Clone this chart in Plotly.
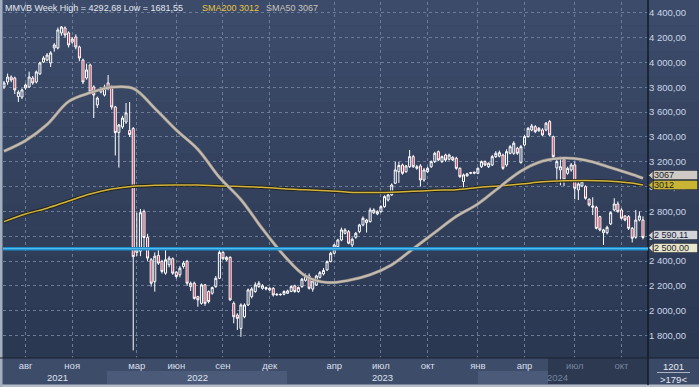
import plotly.graph_objects as go

# ---------------- data (weekly bars) ----------------
opens = [3802, 3842, 3882, 3874, 3725, 3721, 3794, 3802, 3874, 3842,
         3907, 4003, 4019, 3995, 4116, 4116, 4237, 4277, 4237, 4164,
         4204, 4124, 4019, 3874, 3979, 3802, 3657, 3762, 3737, 3834,
         3802, 3641, 3435, 3480, 3520, 3451, 3467, 2470, 2480, 2800,
         2590, 2411, 2235, 2446, 2398, 2303, 2371, 2419, 2311, 2290,
         2357, 2398, 2195, 2222, 2114, 2060, 2209, 2155, 2141, 2195,
         2262, 2470, 2411, 2430, 2060, 1966, 1858, 1952, 2047, 2114,
         2155, 2195, 2181, 2187, 2168, 2181, 2128, 2133, 2133, 2141,
         2155, 2201, 2155, 2195, 2245, 2280, 2175, 2208, 2270, 2297,
         2329, 2396, 2463, 2516, 2570, 2624, 2637, 2530, 2592, 2637,
         2691, 2710, 2718, 2790, 2780, 2798, 2838, 2892, 2933, 3027,
         3120, 3174, 3120, 3160, 3241, 3147, 3166, 3053, 3120, 3160,
         3201, 3281, 3201, 3254, 3220, 3236, 3228, 3147, 3040, 3086,
         3107, 3107, 3107, 3160, 3201, 3160, 3174, 3241, 3245, 3254,
         3174, 3268, 3268, 3308, 3193, 3335, 3402, 3456, 3482, 3450,
         3456, 3456, 3523, 3402, 3150, 3134, 3220, 3107, 3134, 3174,
         2973, 3005, 2999, 2898, 2833, 2833, 2758, 2629, 2629, 2699,
         2812, 2860, 2812, 2763, 2758, 2664, 2592, 2731, 2731]
highs = [3850, 3910, 3895, 3885, 3775, 3790, 3830, 3925, 3890, 3935,
         4005, 4050, 4075, 4090, 4155, 4280, 4292.68, 4290, 4250, 4205,
         4225, 4135, 4030, 3990, 3990, 3815, 3725, 3800, 3820, 3898,
         3815, 3650, 3505, 3570, 3673, 3681, 3480, 2790, 2820, 2815,
         2620, 2425, 2470, 2500, 2410, 2492, 2440, 2430, 2320, 2360,
         2400, 2410, 2235, 2235, 2120, 2220, 2215, 2165, 2195, 2280,
         2495, 2480, 2440, 2440, 2075, 1980, 2060, 2060, 2180, 2190,
         2230, 2240, 2215, 2195, 2190, 2190, 2140, 2140, 2165, 2170,
         2205, 2210, 2195, 2265, 2300, 2300, 2250, 2290, 2320, 2345,
         2405, 2475, 2540, 2580, 2670, 2665, 2650, 2590, 2635, 2700,
         2760, 2740, 2830, 2825, 2810, 2850, 2930, 2945, 3025, 3200,
         3200, 3185, 3175, 3295, 3255, 3175, 3180, 3150, 3160, 3210,
         3280, 3290, 3250, 3265, 3265, 3245, 3240, 3155, 3105, 3110,
         3118, 3120, 3155, 3210, 3210, 3195, 3255, 3285, 3290, 3265,
         3300, 3335, 3365, 3320, 3335, 3415, 3480, 3505, 3495, 3480,
         3470, 3520, 3535, 3410, 3215, 3240, 3230, 3160, 3190, 3201,
         3035, 3050, 3010, 2905, 2914, 2845, 2765, 2660, 2685, 2800,
         2906, 2880, 2825, 2770, 2770, 2675, 2812, 2800, 2760]
lows = [3785, 3820, 3840, 3745, 3681, 3705, 3780, 3795, 3820, 3830,
        3900, 3995, 4010, 3963, 4086, 4105, 4215, 4200, 4120, 4150,
        4105, 4010, 3825, 3860, 3745, 3552, 3633, 3750, 3725, 3775,
        3620, 3250, 3153, 3465, 3505, 3400, 1681.55, 2440, 2440, 2500,
        2400, 2195, 2154, 2370, 2300, 2290, 2350, 2290, 2260, 2270,
        2340, 2200, 2160, 2090, 2033, 2050, 2040, 2060, 2130, 2185,
        2255, 2410, 2400, 2080, 1899, 1846, 1790, 1940, 2040, 2100,
        2145, 2185, 2170, 2165, 2160, 2115, 2120, 2122, 2125, 2135,
        2150, 2145, 2145, 2185, 2235, 2170, 2154, 2200, 2260, 2285,
        2320, 2390, 2455, 2505, 2560, 2615, 2535, 2490, 2580, 2625,
        2680, 2630, 2710, 2780, 2770, 2790, 2830, 2880, 2925, 3020,
        3030, 3095, 3110, 3150, 3150, 3135, 3000, 3040, 3110, 3150,
        3190, 3205, 3190, 3200, 3210, 3205, 3135, 3070, 2973, 3080,
        3100, 3100, 3100, 3150, 3165, 3150, 3165, 3230, 3235, 3135,
        3160, 3260, 3255, 3255, 3185, 3325, 3395, 3445, 3430, 3440,
        3405, 3445, 3405, 3230, 3027, 3010, 3005, 3095, 3120, 2898,
        2892, 2995, 2895, 2840, 2771, 2655, 2640, 2530, 2615, 2690,
        2800, 2790, 2735, 2720, 2650, 2550, 2580, 2720, 2575]
closes = [3834, 3882, 3858, 3778, 3760, 3778, 3818, 3882, 3834, 3923,
          3995, 4035, 4059, 4076, 4140, 4261, 4285, 4220, 4140, 4188,
          4124, 4035, 3842, 3939, 3762, 3737, 3713, 3786, 3802, 3794,
          3641, 3435, 3496, 3552, 3593, 3419, 2436, 2490, 2790, 2590,
          2424, 2222, 2440, 2384, 2317, 2411, 2424, 2303, 2276, 2343,
          2384, 2222, 2222, 2100, 2088, 2209, 2060, 2074, 2187, 2262,
          2470, 2419, 2430, 2088, 1952, 1939, 2047, 2047, 2168, 2176,
          2209, 2222, 2201, 2176, 2181, 2128, 2133, 2130, 2155, 2160,
          2195, 2155, 2187, 2254, 2280, 2181, 2240, 2280, 2307, 2325,
          2396, 2463, 2530, 2570, 2651, 2651, 2544, 2576, 2624, 2691,
          2745, 2731, 2812, 2812, 2798, 2838, 2919, 2933, 3013, 3134,
          3170, 3107, 3166, 3241, 3160, 3160, 3053, 3134, 3147, 3201,
          3268, 3214, 3241, 3214, 3254, 3214, 3147, 3080, 3094, 3102,
          3112, 3115, 3147, 3201, 3174, 3188, 3241, 3268, 3273, 3147,
          3281, 3321, 3349, 3268, 3321, 3402, 3469, 3488, 3442, 3469,
          3416, 3510, 3416, 3241, 3201, 3160, 3053, 3147, 3174, 2986,
          3021, 3040, 2906, 2852, 2844, 2664, 2651, 2651, 2672, 2790,
          2860, 2798, 2745, 2731, 2664, 2584, 2731, 2763, 2590.11]
bar_idx = list(range(len(closes)))

sma_idx = [0, 6, 12, 18, 24, 30, 36, 42, 48, 54, 60, 66, 72, 78, 84, 90,
           96, 102, 108, 114, 120, 126, 132, 138, 144, 150, 156, 162, 168, 174, 178]
sma50 = [3285, 3370, 3500, 3685, 3755, 3800, 3790, 3630, 3455, 3300, 3075,
         2895, 2660, 2445, 2280, 2228, 2245, 2290, 2370, 2500, 2630, 2760,
         2860, 2995, 3125, 3205, 3230, 3212, 3162, 3107, 3067]
sma200 = [2718, 2780, 2826, 2884, 2940, 2980, 3003, 3010, 3012, 3012, 3005,
          3000, 2995, 2982, 2975, 2967, 2955, 2952, 2955, 2962, 2970, 2975,
          2993, 3005, 3020, 3038, 3046, 3048, 3044, 3030, 3012]

month_idx = [6, 19, 37, 48, 61, 74, 92, 105, 118, 132, 145, 159, 172]
month_labels = ["авг", "ноя", "мар", "июн", "сен", "дек", "апр", "июл", "окт",
                "янв", "апр", "июл", "окт"]
year_labels = ["2021", "2022", "2023", "2024"]
price_ticks = [1800, 2000, 2200, 2400, 2600, 2800, 3000, 3200, 3400,
               3600, 3800, 4000, 4200, 4400]
support_level = 2500
last_close = 2590.11
sma200_last = 3012
sma50_last = 3067

# ---------------- geometry helpers ----------------
W, H = 699, 387
ML, MR, MT, MB = 3, 51, 2, 29
PW, PH = W - ML - MR, H - MT - MB
Y0, Y1 = 1620, 4486
X0, X1 = -0.28, 179.4
dv_px = (Y1 - Y0) / PH


def px(xp):
    return (xp - ML) / PW


def py(yp):
    return (H - MB - yp) / PH


FONT = "Liberation Sans"
BG = "#33425e"

fig = go.Figure()

fig.add_trace(go.Scatter(x=sma_idx, y=sma200, mode="lines", hoverinfo="skip",
                         line=dict(color="#24231a", width=3.4, shape="spline")))
fig.add_trace(go.Scatter(x=sma_idx, y=sma200, mode="lines", hoverinfo="skip",
                         line=dict(color="#d3b63e", width=1.5, shape="spline")))
fig.add_trace(go.Scatter(x=sma_idx, y=sma50, mode="lines", hoverinfo="skip",
                         line=dict(color="#8c867e", width=3.2, shape="spline")))
fig.add_trace(go.Scatter(x=sma_idx, y=sma50, mode="lines", hoverinfo="skip",
                         line=dict(color="#c4bcb2", width=2.0, shape="spline")))

fig.add_trace(go.Candlestick(
    x=bar_idx, open=opens, high=highs, low=lows, close=closes,
    increasing=dict(line=dict(color="#ffffff", width=1), fillcolor="rgba(0,0,0,0)"),
    decreasing=dict(line=dict(color="#ffffff", width=1), fillcolor="#b7304c"),
    whiskerwidth=0, hoverinfo="skip"))

shapes = []
# background gradient
top_c = (0x3c, 0x4b, 0x6a)
bot_c = (0x2b, 0x38, 0x52)
nb = 14
for i in range(nb):
    t = i / (nb - 1)
    c = tuple(int(round(top_c[k] + (bot_c[k] - top_c[k]) * t)) for k in range(3))
    shapes.append(dict(type="rect", xref="paper", yref="paper", layer="below",
                       x0=px(0), x1=px(W), y0=py(358 * (i + 1) / nb), y1=py(358 * i / nb),
                       fillcolor="rgb(%d,%d,%d)" % c, line=dict(width=0)))
# bottom band
shapes.append(dict(type="rect", xref="paper", yref="paper", layer="below",
                   x0=px(0), x1=px(W), y0=py(387), y1=py(358),
                   fillcolor="#3d4c69", line=dict(width=0)))
shapes.append(dict(type="rect", xref="paper", yref="paper", layer="below",
                   x0=px(107), x1=px(287), y0=py(384), y1=py(371),
                   fillcolor="#4b5a78", line=dict(width=0)))
shapes.append(dict(type="rect", xref="paper", yref="paper", layer="below",
                   x0=px(478), x1=px(548), y0=py(384), y1=py(371),
                   fillcolor="#4b5a78", line=dict(width=0)))
shapes.append(dict(type="rect", xref="paper", yref="paper", layer="below",
                   x0=px(548), x1=px(648), y0=py(384), y1=py(358),
                   fillcolor="#2c3951", line=dict(width=0)))
shapes.append(dict(type="rect", xref="paper", yref="paper", layer="below",
                   x0=px(648), x1=px(W), y0=py(384), y1=py(358),
                   fillcolor="#3a4966", line=dict(width=0)))
# frame lines
shapes.append(dict(type="rect", xref="paper", yref="paper", layer="above",
                   x0=px(0), x1=px(W), y0=py(387), y1=py(384.5),
                   fillcolor="#b4bcc8", line=dict(width=0)))
shapes.append(dict(type="rect", xref="paper", yref="paper", layer="above",
                   x0=px(0), x1=px(2.5), y0=py(387), y1=py(0),
                   fillcolor="#a3aebf", line=dict(width=0)))
shapes.append(dict(type="line", xref="paper", yref="paper", layer="above",
                   x0=px(648), x1=px(648), y0=py(385), y1=py(0),
                   line=dict(color="#141a26", width=1.5)))
shapes.append(dict(type="line", xref="paper", yref="paper", layer="above",
                   x0=px(0), x1=px(W), y0=py(358), y1=py(358),
                   line=dict(color="#1a2130", width=1.2)))
shapes.append(dict(type="line", xref="paper", yref="paper", layer="above",
                   x0=px(657), x1=px(690), y0=py(372.5), y1=py(372.5),
                   line=dict(color="#aab4c6", width=1)))
# support line
shapes.append(dict(type="line", xref="paper", yref="y", layer="above",
                   x0=0, x1=1, y0=support_level, y1=support_level,
                   line=dict(color="#1b8ccc", width=3.6)))
shapes.append(dict(type="line", xref="paper", yref="y", layer="above",
                   x0=0, x1=1, y0=support_level, y1=support_level,
                   line=dict(color="#62c6f0", width=1.0)))

annotations = []


# price tags on the right
def tag(val, text, bg, fg, shift_px=0.0):
    yv = val + shift_px * dv_px
    h = 4.6 * dv_px
    shapes.append(dict(type="path", xref="paper", yref="y", layer="above",
                       path="M %f,%f L %f,%f L %f,%f Z" % (px(648.5), yv, px(653), yv + h,
                                                           px(653), yv - h),
                       fillcolor=bg, line=dict(color="#1e2533", width=0.8)))
    annotations.append(dict(xref="paper", yref="y", x=px(652.5), y=yv, xanchor="left",
                            yanchor="middle", text=text, showarrow=False, align="left",
                            width=43, height=8, bgcolor=bg, bordercolor="#1e2533",
                            borderwidth=0.6, borderpad=0.3,
                            font=dict(family=FONT, size=9, color=fg)))


tag(sma50_last, "%d" % sma50_last, "#cfcac4", "#1b1f2a", shift_px=3.0)
tag(sma200_last, "%d" % sma200_last, "#c9b433", "#1b1f2a")
tag(last_close, "{:,.2f}".format(last_close).replace(",", " ").replace(".", ","),
    "#d3d5d9", "#1b2440", shift_px=2.2)
tag(support_level, "{:,.2f}".format(support_level).replace(",", " ").replace(".", ","),
    "#e9e6cb", "#1b1f2a", shift_px=0.8)

# header
hdr = "MMVB Week High = {} Low = {}".format(
    ("%.2f" % max(highs)).replace(".", ","), ("%.2f" % min(lows)).replace(".", ","))
annotations.append(dict(xref="paper", yref="paper", x=px(3), y=py(8), xanchor="left",
                        yanchor="middle", text=hdr, showarrow=False,
                        font=dict(family=FONT, size=9, color="#e4e8f0")))
annotations.append(dict(xref="paper", yref="paper", x=px(200), y=py(8), xanchor="left",
                        yanchor="middle", text="SMA200 %d" % sma200_last, showarrow=False,
                        font=dict(family=FONT, size=9, color="#e6c443")))
annotations.append(dict(xref="paper", yref="paper", x=px(264), y=py(8), xanchor="left",
                        yanchor="middle", text="SMA50 %d" % sma50_last, showarrow=False,
                        font=dict(family=FONT, size=9, color="#c9c4bc")))

# years
year_pos = [15, 54, 105.5, 154.3]
for lab, xpos, dim in zip(year_labels, year_pos, [False, False, False, True]):
    annotations.append(dict(xref="x", yref="paper", x=xpos, y=py(377.5), xanchor="center",
                            yanchor="middle", text=lab, showarrow=False,
                            font=dict(family=FONT, size=9.5,
                                      color="#76849e" if dim else "#dde3ee")))
# bottom-right counters
annotations.append(dict(xref="paper", yref="paper", x=px(673.5), y=py(366), xanchor="center",
                        yanchor="middle", text="1201", showarrow=False,
                        font=dict(family=FONT, size=9.5, color="#e6eaf2")))
annotations.append(dict(xref="paper", yref="paper", x=px(673.5), y=py(379), xanchor="center",
                        yanchor="middle", text="&gt;179&lt;", showarrow=False,
                        font=dict(family=FONT, size=9.5, color="#e6eaf2")))

tick_text = []
for i, lab in enumerate(month_labels):
    if i >= len(month_labels) - 2:
        tick_text.append('<span style="color:#76849e">%s</span>' % lab)
    else:
        tick_text.append(lab)

ytick_text = ["{:,.2f}".format(v).replace(",", " ").replace(".", ",") for v in price_ticks]

fig.update_layout(
    width=W, height=H, margin=dict(l=ML, r=MR, t=MT, b=MB, pad=0),
    paper_bgcolor=BG, plot_bgcolor="rgba(0,0,0,0)",
    showlegend=False, shapes=shapes, annotations=annotations,
    boxgap=0.2,
    font=dict(family=FONT, size=9.5, color="#d0d8e8"),
    xaxis=dict(range=[X0, X1], tickvals=month_idx, ticktext=tick_text,
               showgrid=True, gridcolor="#6c7b98", griddash="3px,3px", gridwidth=1,
               zeroline=False, showline=False, ticks="",
               tickfont=dict(family=FONT, size=9.5, color="#d8dfeb"),
               rangeslider=dict(visible=False), fixedrange=True),
    yaxis=dict(range=[Y0, Y1], side="right", tickvals=price_ticks, ticktext=ytick_text,
               showgrid=True, gridcolor="#6c7b98", griddash="3px,3px", gridwidth=1,
               zeroline=False, showline=False, ticks="",
               tickfont=dict(family=FONT, size=9.5, color="#cbd5e8"), fixedrange=True),
)

fig.write_html("out.html", config={"displayModeBar": False, "staticPlot": True},
               post_script="document.body.style.margin='0';document.body.style.padding='0';"
                           "document.documentElement.style.overflow='hidden';")
